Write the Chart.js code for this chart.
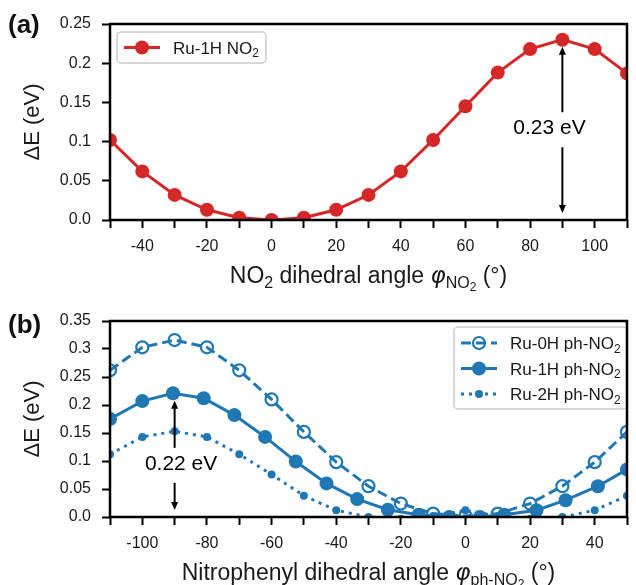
<!DOCTYPE html>
<html>
<head>
<meta charset="utf-8">
<script src="https://cdn.jsdelivr.net/npm/chart.js@4.4.1/dist/chart.umd.min.js"></script>
<style>
  html, body { margin: 0; padding: 0; background: #fff; }
  #wrap { position: relative; width: 636px; height: 585px; overflow: hidden; }
  canvas { position: absolute; left: 0; }
  #chartA { top: 0; }
  #chartB { top: 297px; }
</style>
</head>
<body>
<div id="wrap">
  <canvas id="chartA" width="636" height="297"></canvas>
  <canvas id="chartB" width="636" height="288"></canvas>
</div>
<script>
// Panel (a): NO2 rotation, Ru-1H
const anglesA = [-50, -40, -30, -20, -10, 0, 10, 20, 30, 40, 50, 60, 70, 80, 90, 100, 110];
const ru1hNO2 = [0.102, 0.062, 0.032, 0.013, 0.003, 0.0, 0.003, 0.013, 0.032, 0.062, 0.102, 0.145, 0.188, 0.218, 0.23, 0.218, 0.187];

// Panel (b): nitrophenyl rotation
const anglesB = [-110, -100, -90, -80, -70, -60, -50, -40, -30, -20, -10, 0, 10, 20, 30, 40, 50];
const ru0hPhNO2 = [0.262, 0.303, 0.316, 0.303, 0.262, 0.21, 0.152, 0.098, 0.055, 0.024, 0.006, 0.002, 0.006, 0.024, 0.055, 0.098, 0.152];
const ru1hAngles = [-110, -100, -90.5, -81, -71.5, -62, -52.5, -43, -33.5, -24, -14.5, -5, 4.5, 12, 22, 31, 41, 50];
const ru1hPhNO2 = [0.175, 0.207, 0.221, 0.212, 0.182, 0.143, 0.099, 0.06, 0.032, 0.013, 0.004, 0.0, 0.0, 0.004, 0.012, 0.03, 0.055, 0.085];
const ru2hPhNO2 = [0.112, 0.143, 0.153, 0.143, 0.112, 0.076, 0.038, 0.012, 0.0, -0.003, 0.002, 0.012, 0.002, -0.003, 0.0, 0.012, 0.038];

const xRangeA = [-50, 110];
const yRangeA = [0, 0.25];
const xRangeB = [-110, 50];
const yRangeB = [0, 0.35];

const RED = "#d62728";
const BLUE = "#1f77b4";
const FONT = "'Liberation Sans', Arial, sans-serif";
const MATH = "'DejaVu Sans', sans-serif";

const toPoints = (xs, ys) => xs.map((x, i) => ({ x, y: ys[i] }));

// text made of pieces: [text, size factor, baseline shift, italic, family]
function drawRich(ctx, parts, x, y, size, align) {
  const fontOf = (p) =>
    `${p[3] ? "italic " : ""}${Math.round(size * p[1])}px ${p[4] || FONT}`;
  let total = 0;
  parts.forEach((p) => {
    ctx.font = fontOf(p);
    total += ctx.measureText(p[0]).width;
  });
  let cx = align === "center" ? x - total / 2 : x;
  ctx.textAlign = "left";
  ctx.textBaseline = "alphabetic";
  parts.forEach((p) => {
    ctx.font = fontOf(p);
    ctx.fillText(p[0], cx, y + p[2] * size);
    cx += ctx.measureText(p[0]).width;
  });
}

function arrow(ctx, x, y0, y1) {
  const dir = y1 > y0 ? 1 : -1;
  ctx.beginPath();
  ctx.moveTo(x, y0);
  ctx.lineTo(x, y1 - dir * 5);
  ctx.stroke();
  ctx.beginPath();
  ctx.moveTo(x, y1);
  ctx.lineTo(x - 3.5, y1 - dir * 8);
  ctx.lineTo(x + 3.5, y1 - dir * 8);
  ctx.closePath();
  ctx.fill();
}

function legendMarker(ctx, ds, x0, cy) {
  ctx.save();
  ctx.strokeStyle = ds.borderColor;
  ctx.lineWidth = ds.borderWidth;
  ctx.setLineDash(ds.borderDash || []);
  ctx.beginPath();
  ctx.moveTo(x0, cy);
  ctx.lineTo(x0 + 36, cy);
  ctx.stroke();
  ctx.setLineDash([]);
  ctx.beginPath();
  ctx.arc(x0 + 18, cy, ds.pointRadius, 0, Math.PI * 2);
  ctx.fillStyle = ds.pointBackgroundColor;
  ctx.fill();
  if (ds.pointBorderWidth) {
    ctx.lineWidth = ds.pointBorderWidth;
    ctx.strokeStyle = ds.pointBorderColor;
    ctx.stroke();
  }
  ctx.restore();
}

function figurePlugin(cfg) {
  return {
    id: "figure",
    afterDatasetsDraw(chart) {
      const { ctx, chartArea: a, scales } = chart;
      const x = scales.x;
      const y = scales.y;
      ctx.save();

      // arrows with the barrier height
      const n = cfg.note;
      ctx.strokeStyle = "#000";
      ctx.fillStyle = "#000";
      ctx.lineWidth = 2;
      const tx = x.getPixelForValue(n.textX);
      const ty = y.getPixelForValue(n.textY);
      const ax = x.getPixelForValue(n.arrowX);
      arrow(ctx, ax, ty - 16, y.getPixelForValue(n.top) + 7);
      arrow(ctx, ax, ty + 19, y.getPixelForValue(n.bottom) - 7);
      ctx.font = `21px ${FONT}`;
      ctx.textAlign = "center";
      ctx.textBaseline = "middle";
      ctx.fillText(n.label, tx, ty);

      // legend
      const L = cfg.legend;
      ctx.beginPath();
      ctx.roundRect(L.x, L.y, L.w, L.h, 4);
      ctx.fillStyle = "rgba(255,255,255,0.85)";
      ctx.fill();
      ctx.strokeStyle = "#cccccc";
      ctx.lineWidth = 1.5;
      ctx.stroke();
      chart.data.datasets.forEach((ds, i) => {
        const cy = L.y + L.first + i * L.step;
        legendMarker(ctx, ds, L.x + 7, cy);
        ctx.fillStyle = "#1a1a1a";
        const base = ds.label.slice(0, -1);
        const sub = ds.label.slice(-1);
        drawRich(ctx, [[base, 1, 0], [sub, 0.7, 0.22]], L.x + 56, cy + 6, 17, "left");
      });

      // frame
      ctx.strokeStyle = "#000";
      ctx.lineWidth = 2.5;
      ctx.strokeRect(a.left, a.top, a.right - a.left, a.bottom - a.top);

      // panel tag
      ctx.fillStyle = "#111";
      ctx.font = `bold 26px ${FONT}`;
      ctx.textAlign = "left";
      ctx.textBaseline = "middle";
      ctx.fillText(cfg.tag, 8, cfg.tagY);

      // x axis title with subscripts
      ctx.fillStyle = "#1a1a1a";
      drawRich(ctx, cfg.xTitle, (a.left + a.right) / 2, a.bottom + 63, 23, "center");
      ctx.restore();
    },
  };
}

function makeOptions(xRange, yRange, canvasH) {
  return {
    responsive: false,
    animation: false,
    events: [],
    layout: { padding: { top: 24, right: 2, left: 0, bottom: 0 } },
    plugins: { legend: { display: false }, tooltip: { enabled: false } },
    scales: {
      x: {
        type: "linear",
        min: xRange[0],
        max: xRange[1],
        afterFit: (s) => { s.height = canvasH - 220; },
        border: { display: false },
        grid: {
          drawOnChartArea: false,
          drawTicks: true,
          tickLength: 8,
          tickWidth: 2,
          tickColor: "#000",
        },
        ticks: {
          stepSize: 10,
          autoSkip: false,
          maxRotation: 0,
          padding: 9,
          color: "#1a1a1a",
          font: { family: FONT, size: 16 },
          callback: (v) => (v % 20 === 0 ? String(v) : ""),
        },
      },
      y: {
        min: yRange[0],
        max: yRange[1],
        afterFit: (s) => { s.width = 110; },
        border: { display: false },
        grid: {
          drawOnChartArea: false,
          drawTicks: true,
          tickLength: 8,
          tickWidth: 2,
          tickColor: "#000",
        },
        ticks: {
          stepSize: 0.05,
          padding: 11,
          color: "#1a1a1a",
          font: { family: FONT, size: 16 },
          callback: (v) => (v === 0 ? "0.0" : String(parseFloat(v.toFixed(2)))),
        },
        title: {
          display: true,
          text: "ΔE (eV)",
          color: "#1a1a1a",
          font: { family: FONT, size: 22 },
          padding: { top: 20, bottom: 0 },
        },
      },
    },
  };
}

const chartA = new Chart(document.getElementById("chartA"), {
  type: "line",
  data: {
    datasets: [
      {
        label: "Ru-1H NO2",
        data: toPoints(anglesA, ru1hNO2),
        borderColor: RED,
        borderWidth: 3,
        pointRadius: 7,
        pointBackgroundColor: RED,
        pointBorderWidth: 0,
        clip: 0,
      },
    ],
  },
  options: makeOptions(xRangeA, yRangeA, 297),
  plugins: [
    figurePlugin({
      tag: "(a)",
      tagY: 26,
      note: { label: "0.23 eV", textX: 86, textY: 0.117, arrowX: 90, top: 0.23, bottom: 0 },
      legend: { x: 117, y: 32, w: 149, h: 31, first: 15.5, step: 0 },
      xTitle: [
        ["NO", 1, 0],
        ["2", 0.7, 0.22],
        [" dihedral angle ", 1, 0],
        ["φ", 1, 0, true, MATH],
        ["NO", 0.7, 0.22],
        ["2", 0.5, 0.36],
        [" (°)", 1, 0],
      ],
    }),
  ],
});

const chartB = new Chart(document.getElementById("chartB"), {
  type: "line",
  data: {
    datasets: [
      {
        label: "Ru-0H ph-NO2",
        data: toPoints(anglesB, ru0hPhNO2),
        borderColor: BLUE,
        borderWidth: 3,
        borderDash: [10, 5],
        pointRadius: 6,
        pointBackgroundColor: "rgba(255,255,255,0)",
        pointBorderColor: BLUE,
        pointBorderWidth: 2.2,
        clip: 0,
      },
      {
        label: "Ru-1H ph-NO2",
        data: toPoints(ru1hAngles, ru1hPhNO2),
        borderColor: BLUE,
        borderWidth: 3,
        pointRadius: 7,
        pointBackgroundColor: BLUE,
        pointBorderWidth: 0,
        clip: 0,
      },
      {
        label: "Ru-2H ph-NO2",
        data: toPoints(anglesB, ru2hPhNO2),
        borderColor: BLUE,
        borderWidth: 3,
        borderDash: [3, 5],
        pointRadius: 4,
        pointBackgroundColor: BLUE,
        pointBorderWidth: 0,
        clip: 0,
      },
    ],
  },
  options: makeOptions(xRangeB, yRangeB, 288),
  plugins: [
    figurePlugin({
      tag: "(b)",
      tagY: 29,
      note: { label: "0.22 eV", textX: -88, textY: 0.095, arrowX: -90, top: 0.22, bottom: 0 },
      legend: { x: 454, y: 30, w: 173, h: 82, first: 16, step: 25.5 },
      xTitle: [
        ["Nitrophenyl dihedral angle ", 1, 0],
        ["φ", 1, 0, true, MATH],
        ["ph-NO", 0.7, 0.22],
        ["2", 0.5, 0.36],
        [" (°)", 1, 0],
      ],
    }),
  ],
});
</script>
</body>
</html>
